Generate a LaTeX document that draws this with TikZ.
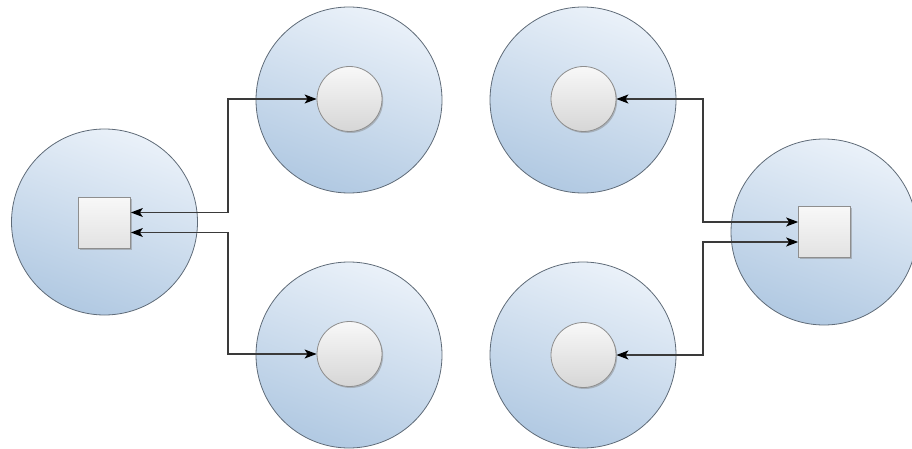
\documentclass[tikz,border=0pt]{standalone}
\usetikzlibrary{shadows,arrows.meta}
\definecolor{bigtop}{HTML}{EAF1F9}
\definecolor{bigbot}{HTML}{B1C9E2}
\definecolor{bigedge}{HTML}{5F6B78}
\definecolor{smtop}{HTML}{F8F8F8}
\definecolor{smbot}{HTML}{D6D6D6}
\definecolor{smedge}{HTML}{8E8E8E}
\definecolor{wire}{HTML}{3A3A3A}
\tikzset{
  bigc/.style={circle, minimum size=186pt, inner sep=0pt, draw=bigedge, line width=0.8pt,
    shading=axis, top color=bigtop, bottom color=bigbot, shading angle=-20},
  smallc/.style={circle, minimum size=65pt, inner sep=0pt, draw=smedge, line width=0.8pt,
    top color=smtop, bottom color=smbot,
    drop shadow={shadow xshift=1.2pt, shadow yshift=-1.5pt, opacity=0.45}},
  sq/.style={rectangle, minimum width=52pt, minimum height=51pt, inner sep=0pt, draw=smedge, line width=0.7pt,
    top color=smtop, bottom color=smbot!70!white,
    drop shadow={shadow xshift=1.2pt, shadow yshift=-1.5pt, opacity=0.45}},
  wirel/.style={draw=wire, line width=1.2pt, {Stealth[length=12pt,width=9pt,inset=3pt,black]}-{Stealth[length=12pt,width=9pt,inset=3pt,black]}}
}
\begin{document}
\begin{tikzpicture}[x=1pt,y=-1pt]
\useasboundingbox (0,0) rectangle (912,449);
% big circles
\node[bigc] (bL) at (104.5,222) {};
\node[bigc] (bTL) at (349,100) {};
\node[bigc] (bBL) at (349,355) {};
\node[bigc] (bTR) at (583,100) {};
\node[bigc] (bBR) at (583,355) {};
\node[bigc] (bR) at (824,232) {};
% inner shapes
\node[sq] (sqL) at (104.5,222.5) {};
\node[sq] (sqR) at (824.5,232) {};
\node[smallc] (cTL) at (349.5,99) {};
\node[smallc] (cBL) at (349.5,354) {};
\node[smallc] (cTR) at (583.5,99) {};
\node[smallc] (cBR) at (583.5,355) {};
% junctions
\coordinate (jL) at (228,222);
\coordinate (jR) at (703,232);
% connectors
\draw[wirel] ([yshift=10pt]sqL.east) -| (jL |- cTL.west) -- (cTL.west);
\draw[wirel] ([yshift=-10pt]sqL.east) -| (jL |- cBL.west) -- (cBL.west);
\draw[wirel] (cTR.east) -- (cTR.east -| jR) |- ([yshift=10pt]sqR.west);
\draw[wirel] (cBR.east) -- (cBR.east -| jR) |- ([yshift=-10pt]sqR.west);
\end{tikzpicture}
\end{document}
